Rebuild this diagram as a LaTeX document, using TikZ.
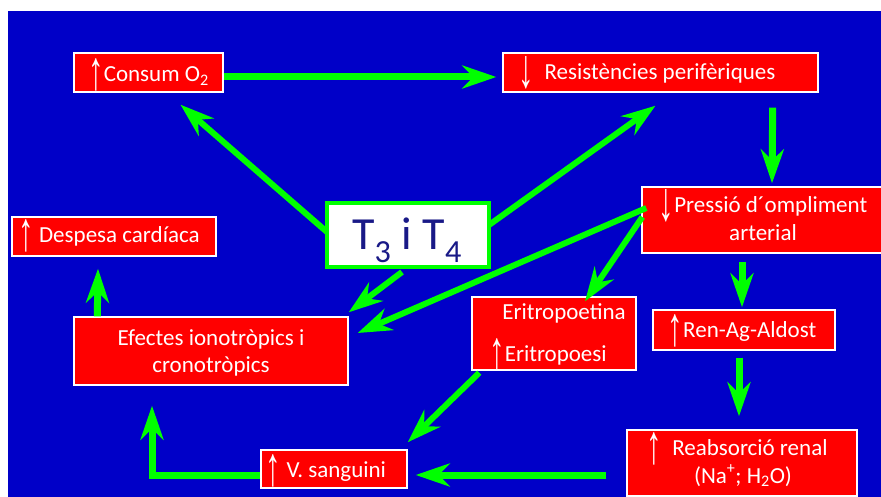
\documentclass[tikz,border=0pt]{standalone}
\usepackage{fontspec}
\setmainfont{Carlito}
\newfontfamily\arrowfont{Liberation Sans}
\usetikzlibrary{arrows.meta,calc}
\definecolor{bgblue}{RGB}{0,0,200}
\definecolor{boxred}{RGB}{255,0,0}
\definecolor{arrgreen}{RGB}{0,255,0}
\definecolor{tnavy}{RGB}{25,25,135}
\newcommand\upA{{\arrowfont\bfseries\raisebox{-8pt}{\scalebox{1.35}[2.4]{↑}}}}
\newcommand\dnA{{\arrowfont\bfseries\raisebox{-8pt}{\scalebox{1.35}[2.4]{↓}}}}
\begin{document}
\begin{tikzpicture}[x=1pt,y=-1pt,
  rbox/.style={draw=white, line width=1.4pt, fill=boxred, inner sep=0pt},
  tbox/.style={draw=arrgreen, line width=4pt, fill=white, inner sep=0pt},
  txt/.style={text=white, font=\fontsize{23}{27}\selectfont, inner sep=0pt, anchor=base},
  conn/.style={draw=arrgreen, line width=6pt, -{Stealth[length=34pt,width=23pt,inset=11pt]}},
  connb/.style={conn, line width=7pt}]
\useasboundingbox (0,0) rectangle (881,497);
\clip (0,0) rectangle (881,497);
\fill[white] (0,0) rectangle (881,497);
\fill[bgblue] (8,11) rectangle (881,497);
% boxes
\node[rbox, minimum width=149pt, minimum height=39pt] (consum) at (148.5,72.5) {};
\node[rbox, minimum width=315pt, minimum height=39pt] (resist) at (660.5,72.5) {};
\node[rbox, minimum width=204pt, minimum height=39pt] (despesa) at (114,236.5) {};
\node[rbox, minimum width=274pt, minimum height=68pt] (efectes) at (211,351) {};
\node[tbox, minimum width=162pt, minimum height=64pt] (t34) at (408,235) {};
\node[rbox, minimum width=242pt, minimum height=66pt] (pressio) at (763,220) {};
\node[rbox, minimum width=164pt, minimum height=73pt] (eritro) at (554,333.5) {};
\node[rbox, minimum width=182pt, minimum height=40pt] (ren) at (744,330) {};
\node[rbox, minimum width=230pt, minimum height=66pt] (reab) at (742,463) {};
\node[rbox, minimum width=146pt, minimum height=38pt] (vsang) at (334,469) {};
% connectors
\draw[connb] ([shift={(0,4.5)}]consum.east) -- ([shift={(-6,4.5)}]resist.west);
\draw[conn] ([shift={(2,-3)}]t34.west) -- ([shift={(32,12)}]consum.south);
\draw[conn] ([shift={(-2,-10)}]t34.east) -- ([shift={(-5,13)}]resist.south);
\draw[connb] ([shift={(-46,15)}]resist.south east) -- ([shift={(9,-3)}]pressio.north);
\draw[connb] ([shift={(-21,8)}]pressio.south) -- ([shift={(-2,-2)}]ren.north);
\draw[connb] ([shift={(-5,7)}]ren.south) -- ([shift={(-3,-13)}]reab.north);
\draw[connb] ([shift={(-20,12)}]reab.west) -- ([shift={(8,6)}]vsang.east);
\draw[connb] ([shift={(0,6)}]vsang.west) -| ([shift={(-59,20)}]efectes.south);
\draw[connb] ([shift={(24,0)}]efectes.north west) -- ([shift={(-16,12)}]despesa.south);
\draw[conn] ([shift={(-6,3)}]t34.south) -- ([shift={(0,-4)}]efectes.north east);
\draw[conn] ([shift={(5,-12)}]pressio.west) -- ([shift={(9,-18)}]efectes.east);
\draw[conn] ([shift={(1,-3)}]pressio.west) -- ([shift={(31,5)}]eritro.north);
\draw[conn] ([shift={(8,2)}]eritro.south west) -- ([shift={(0,-7)}]vsang.north east);
% texts
\node[txt] (consumT) at (148.5,82) {\upA Consum O\textsubscript{2}};
\node[txt] (resistT) at (647,80) {\dnA\ \ Resistències perifèriques};
\node[txt] (despesaT) at (109,243) {\upA\ Despesa cardíaca};
\node[txt] (efectesT1) at (211,345) {Efectes ionotròpics i};
\node[txt] (efectesT2) at (211,372) {cronotròpics};
\node[txt, text=tnavy, font=\fontsize{46}{50}\selectfont] (t34T) at (407,250) {T\textsubscript{3} i T\textsubscript{4}};
\node[txt] (pressioT1) at (763,213) {\dnA Pressió d´ompliment};
\node[txt] (pressioT2) at (763,241) {arterial};
\node[txt] (eritroT1) at (564,319) {Eritropoetina};
\node[txt] (eritroT2) at (548,361) {\upA Eritropoesi};
\node[txt] (renT) at (742,337) {\upA Ren-Ag-Aldost};
\node[txt] (reabT1) at (737,455) {\upA\ \ Reabsorció renal};
\node[txt] (reabT2) at (743,483) {(Na\textsuperscript{+}; H\textsubscript{2}O)};
\node[txt] (vsangT) at (326,477) {\upA\ V. sanguini};
\end{tikzpicture}
\end{document}
